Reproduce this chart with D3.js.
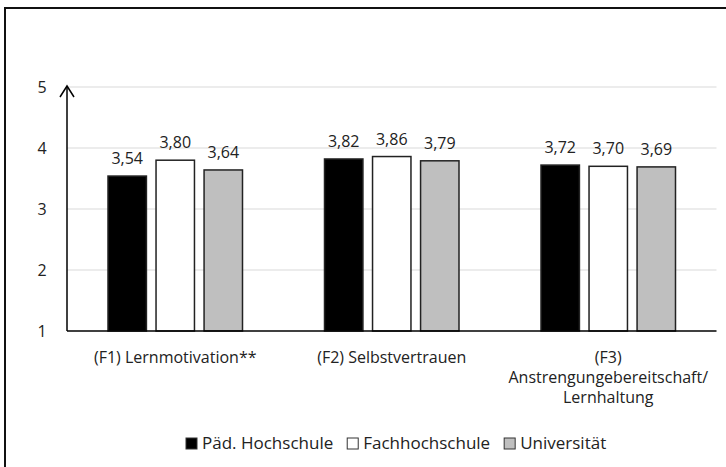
<!DOCTYPE html>
<meta charset="utf-8">
<style>
body { margin: 0; background: #fff; }
text { font-family: "Open Sans", Lato, sans-serif; fill: #222; }
.grid line { stroke: #d9d9d9; stroke-width: 1px; }
</style>
<svg width="726" height="467"></svg>
<script src="https://d3js.org/d3.v7.min.js"></script>
<script>
// data
var categories = ["(F1) Lernmotivation**", "(F2) Selbstvertrauen", "(F3) Anstrengungebereitschaft/ Lernhaltung"];
var catLines = [["(F1) Lernmotivation**"], ["(F2) Selbstvertrauen"], ["(F3)", "Anstrengungebereitschaft/", "Lernhaltung"]];
var series = ["Päd. Hochschule", "Fachhochschule", "Universität"];
var colors = ["#000000", "#ffffff", "#bfbfbf"];
var values = [
  [3.54, 3.80, 3.64],
  [3.82, 3.86, 3.79],
  [3.72, 3.70, 3.69]
];
var yTicks = [1, 2, 3, 4, 5];

var svg = d3.select("svg");

// outer frame (only top and left edges visible)
svg.append("path")
    .attr("d", "M5,467V8H726")
    .attr("fill", "none")
    .attr("stroke", "#111")
    .attr("stroke-width", 2);

var pLeft = 67, pRight = 716.5, pTop = 87, pBottom = 331;

var x0 = d3.scaleBand().domain(categories).range([pLeft, pRight]);
var x1 = d3.scaleBand().domain(series).range([41, 175.5]).paddingInner(0.2);
var y = d3.scaleLinear().domain([1, 5]).range([pBottom, pTop]);

// gridlines
svg.append("g").attr("class", "grid")
  .selectAll("line")
  .data(yTicks.slice(1))
  .enter().append("line")
    .attr("x1", pLeft).attr("x2", pRight)
    .attr("y1", function(d) { return y(d); })
    .attr("y2", function(d) { return y(d); });

// y tick labels
svg.append("g")
  .selectAll("text")
  .data(yTicks)
  .enter().append("text")
    .attr("x", 42)
    .attr("y", function(d) { return y(d); })
    .attr("dy", "0.35em")
    .attr("text-anchor", "middle")
    .style("font-size", "16px")
    .text(function(d) { return d; });

// bars
var groups = svg.append("g")
  .selectAll("g")
  .data(values)
  .enter().append("g")
    .attr("transform", function(d, i) { return "translate(" + x0(categories[i]) + ",0)"; });

groups.selectAll("rect")
  .data(function(d) { return d; })
  .enter().append("rect")
    .attr("x", function(d, j) { return x1(series[j]); })
    .attr("y", function(d) { return y(d); })
    .attr("width", x1.bandwidth())
    .attr("height", function(d) { return pBottom - y(d); })
    .attr("fill", function(d, j) { return colors[j]; })
    .attr("stroke", "#222")
    .attr("stroke-width", 1.5);

groups.selectAll("text")
  .data(function(d) { return d; })
  .enter().append("text")
    .attr("x", function(d, j) { return x1(series[j]) + x1.bandwidth() / 2; })
    .attr("y", function(d) { return y(d) - 12; })
    .attr("text-anchor", "middle")
    .style("font-size", "16px")
    .text(function(d) { return d.toFixed(2).replace(".", ","); });

// axes
svg.append("line")
    .attr("x1", pLeft).attr("x2", pRight)
    .attr("y1", pBottom).attr("y2", pBottom)
    .attr("stroke", "#000").attr("stroke-width", 1.5);
svg.append("line")
    .attr("x1", pLeft).attr("x2", pLeft)
    .attr("y1", pBottom).attr("y2", pTop - 1)
    .attr("stroke", "#000").attr("stroke-width", 1.5);
svg.append("path")
    .attr("d", "M" + (pLeft - 7) + "," + (pTop + 10) + "L" + pLeft + "," + (pTop - 1) + "L" + (pLeft + 7) + "," + (pTop + 10))
    .attr("fill", "none").attr("stroke", "#000").attr("stroke-width", 1.5);

// category labels
var cat = svg.append("g")
  .selectAll("text")
  .data(catLines)
  .enter().append("text")
    .attr("x", function(d, i) { return x0(categories[i]) + x0.bandwidth() / 2; })
    .attr("y", 363)
    .attr("text-anchor", "middle")
    .style("font-size", "16px");
cat.selectAll("tspan")
  .data(function(d) { return d; })
  .enter().append("tspan")
    .attr("x", function() { return this.parentNode.getAttribute("x"); })
    .attr("dy", function(d, k) { return k ? 20 : 0; })
    .text(function(d) { return d; });

// legend
var legend = svg.append("g");
var lx = 186;
series.forEach(function(s, j) {
  legend.append("rect")
      .attr("x", lx).attr("y", 438)
      .attr("width", 11).attr("height", 11)
      .attr("fill", colors[j])
      .attr("stroke", "#333").attr("stroke-width", 1);
  var t = legend.append("text")
      .attr("x", lx + 16).attr("y", 449)
      .style("font-size", "17px")
      .text(s);
  lx += 16 + t.node().getComputedTextLength() + 14;
});
</script>
